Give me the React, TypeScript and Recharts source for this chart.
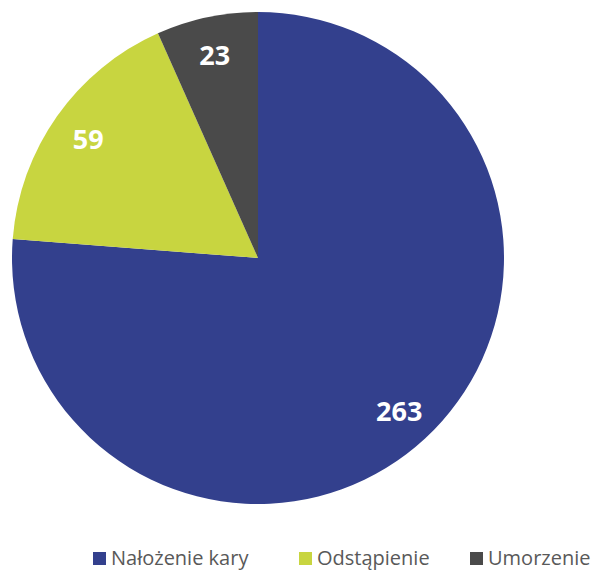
import { PieChart, Pie, Cell, Legend } from "recharts";

const CATEGORIES = ["Nałożenie kary", "Odstąpienie", "Umorzenie"];
const VALUES = [263, 59, 23];
const COLORS = ["#33408D", "#C8D540", "#4A4A4A"];

const data = CATEGORIES.map((name, i) => ({ name, value: VALUES[i] }));

const RAD = Math.PI / 180;

function renderLabel(props: any) {
  const { cx, cy, midAngle, outerRadius, value } = props;
  const r = outerRadius * 0.845;
  const x = cx + r * Math.cos(-midAngle * RAD);
  const y = cy + r * Math.sin(-midAngle * RAD);
  return (
    <text
      x={x}
      y={y}
      fill="#ffffff"
      textAnchor="middle"
      dominantBaseline="central"
      fontFamily="'Open Sans', sans-serif"
      fontWeight={700}
      fontSize={27}
    >
      {value}
    </text>
  );
}

// legend swatch x positions
const LEGEND_X = [93, 299, 470];

function renderLegend() {
  return (
    <svg width={595} height={30}>
      {CATEGORIES.map((name, i) => (
        <g key={name}>
          <rect x={LEGEND_X[i]} y={9} width={13} height={13} fill={COLORS[i]} />
          <text
            x={LEGEND_X[i] + 18}
            y={14}
            dominantBaseline="central"
            fill="#595959"
            fontFamily="'Open Sans', sans-serif"
            fontSize={20}
          >
            {name}
          </text>
        </g>
      ))}
    </svg>
  );
}

export default function App() {
  return (
    <div style={{ position: "absolute", left: 0, top: 0, background: "#fff" }}>
      <PieChart width={595} height={571} margin={{ top: 0, right: 0, bottom: 0, left: 0 }}>
        <Pie
          data={data}
          dataKey="value"
          nameKey="name"
          cx={258}
          cy={258}
          outerRadius={246}
          startAngle={90}
          endAngle={-270}
          stroke="none"
          label={renderLabel}
          labelLine={false}
          isAnimationActive={false}
        >
          {data.map((d, i) => (
            <Cell key={d.name} fill={COLORS[i]} />
          ))}
        </Pie>
        <Legend
          content={renderLegend}
          wrapperStyle={{ position: "absolute", left: 0, top: 543, width: 595, height: 30 }}
        />
      </PieChart>
    </div>
  );
}
